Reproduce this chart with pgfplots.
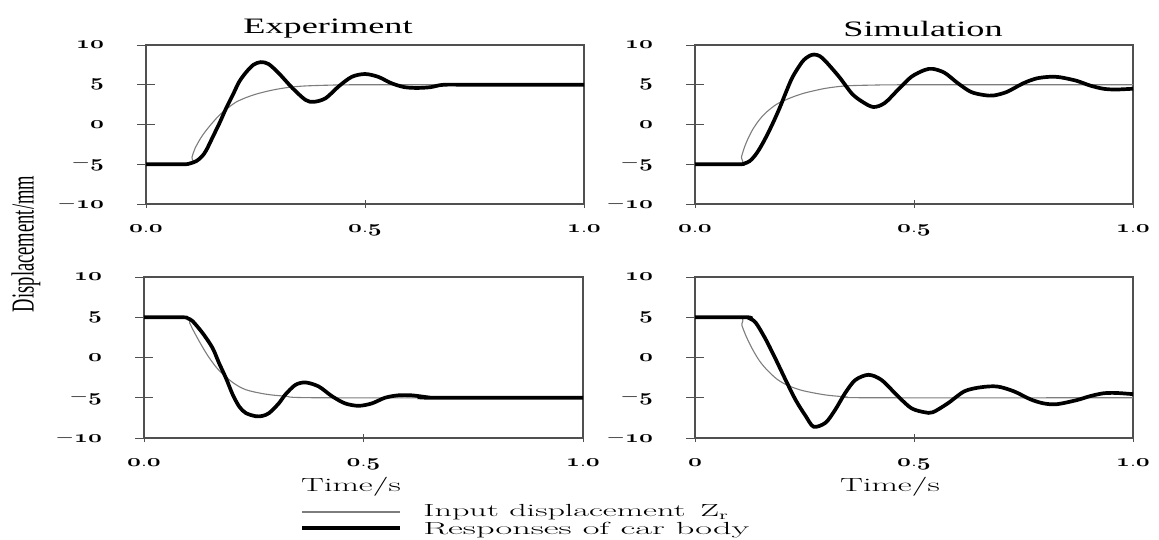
\documentclass[border=0pt]{standalone}
\usepackage{fontspec}
\usepackage{pgfplots}
\pgfplotsset{compat=1.18}
\newfontfamily\tnr{Liberation Serif}
\newcommand\osn[1]{{\usefont{OML}{cmm}{b}{it}#1}}
\definecolor{inputgray}{RGB}{125,125,125}
\definecolor{framegray}{RGB}{80,80,80}

\pgfplotsset{
  panel/.style={
    scale only axis, width=438pt, height=159pt,
    xmin=0, xmax=1, ymin=-10, ymax=10,
    axis line style={framegray, line width=1.1pt},
    ytick={-10,-5,0,5,10},
    yticklabels={$-$\osn{10},$-$\osn{5},\osn{0},\osn{5},\osn{10}},
    tick pos=left,
    major tick length=18pt, tick align=center,
    tick style={framegray, line width=1pt},
    xtick=\empty,
    extra x ticks={0,0.5,1},
    extra x tick labels={\osn{0}.\osn{0},\osn{0}.\osn{5},\osn{1}.\osn{0}},
    extra x tick style={major tick length=8pt, tick align=center},
    yticklabel style={font=\fontsize{17}{17}\selectfont, xscale=1.4, anchor=east, xshift=-20pt},
    xticklabel style={font=\fontsize{17}{17}\selectfont, xscale=1.4, anchor=north, yshift=-13pt},
    clip=false,
  },
  inp/.style={inputgray, line width=1.1pt, smooth},
  resp/.style={black, line width=3.7pt, smooth},
}

\begin{document}
\begin{tikzpicture}
\useasboundingbox (0pt,0pt) rectangle (1159pt,-539pt);

% top left: experiment
\begin{axis}[panel, at={(146pt,-204pt)}, width=438pt, height=159pt]
\addplot[inp] coordinates {
 (0,-5) (0.1,-5) (0.105,-4.1) (0.112,-3.0) (0.125,-1.7) (0.138,-0.7) (0.153,0.3)
 (0.168,1.2) (0.183,1.9) (0.205,2.8) (0.229,3.4) (0.25,3.8) (0.274,4.15) (0.3,4.45)
 (0.33,4.7) (0.364,4.85) (0.42,4.95) (0.5,5) (1,5)};
\addplot[resp] coordinates {
 (0,-5) (0.085,-5) (0.1,-4.9) (0.115,-4.6) (0.128,-4.0) (0.138,-3.2) (0.153,-1.5)
 (0.168,0.2) (0.183,2.05) (0.198,3.7) (0.213,5.4) (0.229,6.6) (0.245,7.5) (0.262,7.85)
 (0.28,7.6) (0.304,6.4) (0.334,4.6) (0.364,3.1) (0.383,2.85) (0.41,3.3) (0.44,4.8)
 (0.47,6.0) (0.5,6.35) (0.53,6.0) (0.56,5.2) (0.59,4.7) (0.62,4.6) (0.65,4.7)
 (0.68,5.0) (0.75,5.0) (1,5)};
\end{axis}

% top right: simulation
\begin{axis}[panel, at={(695pt,-204pt)}, width=438pt, height=159pt]
\addplot[inp] coordinates {
 (0,-5) (0.102,-5) (0.106,-4.1) (0.112,-3.0) (0.12,-1.9) (0.132,-0.6) (0.147,0.6)
 (0.162,1.5) (0.185,2.5) (0.207,3.1) (0.23,3.6) (0.253,4.0) (0.298,4.55) (0.343,4.85)
 (0.4,4.95) (0.5,5) (1,5)};
\addplot[resp] coordinates {
 (0,-5) (0.1,-5) (0.113,-4.9) (0.125,-4.6) (0.137,-3.9) (0.148,-3.0) (0.163,-1.5)
 (0.178,0.2) (0.193,2.05) (0.208,4.1) (0.223,6.0) (0.245,7.9) (0.26,8.6) (0.272,8.8)
 (0.285,8.6) (0.299,7.9) (0.329,6.0) (0.358,3.9) (0.381,2.9) (0.407,2.2) (0.433,2.7)
 (0.464,4.4) (0.494,6.0) (0.524,6.85) (0.543,7.0) (0.57,6.5) (0.6,5.2) (0.63,4.1)
 (0.66,3.7) (0.682,3.65) (0.712,4.1) (0.75,5.2) (0.78,5.8) (0.81,6.0) (0.833,5.95)
 (0.871,5.5) (0.902,4.9) (0.932,4.5) (0.96,4.4) (1,4.5)};
\end{axis}

% bottom left: experiment
\begin{axis}[panel, at={(144pt,-438pt)}, width=439pt, height=161pt]
\addplot[inp] coordinates {
 (0,5) (0.096,5) (0.104,4.3) (0.111,3.5) (0.126,2.0) (0.141,0.6) (0.156,-0.6)
 (0.171,-1.6) (0.202,-3.1) (0.232,-4.0) (0.277,-4.55) (0.322,-4.8) (0.4,-5) (1,-5)};
\addplot[resp] coordinates {
 (0,5) (0.088,5) (0.1,4.85) (0.111,4.5) (0.134,3.0) (0.156,1.2) (0.171,-0.7)
 (0.187,-2.6) (0.202,-4.6) (0.217,-6.1) (0.232,-6.9) (0.255,-7.3) (0.27,-7.25)
 (0.285,-6.9) (0.307,-5.7) (0.322,-4.6) (0.345,-3.4) (0.368,-3.1) (0.398,-3.6)
 (0.428,-4.8) (0.458,-5.7) (0.489,-6.0) (0.519,-5.7) (0.549,-5.0) (0.579,-4.7)
 (0.61,-4.7) (0.64,-4.9) (0.66,-5) (1,-5)};
\end{axis}

% bottom right: simulation
\begin{axis}[panel, at={(695pt,-438pt)}, width=438pt, height=161pt,
  extra x tick labels={\osn{0},\osn{0}.\osn{5},\osn{1}.\osn{0}}]
\addplot[inp] coordinates {
 (0,5) (0.102,5) (0.107,4.0) (0.117,2.6) (0.132,0.95) (0.147,-0.4) (0.162,-1.4)
 (0.185,-2.6) (0.207,-3.35) (0.23,-3.85) (0.253,-4.2) (0.298,-4.65) (0.343,-4.88)
 (0.4,-5) (1,-5)};
\addplot[resp] coordinates {
 (0,5) (0.117,5) (0.125,4.85) (0.139,4.3) (0.162,2.2) (0.185,-0.3) (0.207,-2.8)
 (0.23,-5.3) (0.253,-7.3) (0.271,-8.6) (0.298,-8.1) (0.32,-6.5) (0.343,-4.4)
 (0.366,-2.8) (0.396,-2.15) (0.426,-2.8) (0.464,-4.85) (0.494,-6.3) (0.524,-6.8)
 (0.543,-6.8) (0.577,-5.7) (0.615,-4.2) (0.652,-3.7) (0.69,-3.6) (0.728,-4.2)
 (0.766,-5.2) (0.796,-5.7) (0.826,-5.8) (0.871,-5.3) (0.902,-4.8) (0.932,-4.45)
 (0.96,-4.4) (1,-4.55)};
\end{axis}

% titles and labels
\node[font=\tnr\fontsize{22}{22}\selectfont, xscale=1.65] at (328pt,-29pt) {Experiment};
\node[font=\tnr\fontsize{22}{22}\selectfont, xscale=1.65] at (923pt,-29pt) {Simulation};
\node[font=\tnr\fontsize{32}{32}\selectfont, rotate=90, xscale=0.58] at (26pt,-244pt) {Displacement/mm};
\node[font=\fontsize{19}{19}\selectfont, xscale=1.8] at (351pt,-487pt) {Time/s};
\node[font=\fontsize{19}{19}\selectfont, xscale=1.8] at (890pt,-487pt) {Time/s};

% legend
\draw[inputgray, line width=1.2pt] (302pt,-512pt) -- (400pt,-512pt);
\draw[black, line width=4.5pt] (302pt,-528pt) -- (400pt,-528pt);
\node[anchor=west, font=\fontsize{17.5}{17.5}\selectfont, xscale=1.95, inner sep=0pt] at (423pt,-512pt) {Input displacement};
\node[anchor=west, font=\fontsize{17.5}{17.5}\selectfont, xscale=1.9, inner sep=0pt] at (700pt,-512pt) {Z\textsubscript{r}};
\node[anchor=west, font=\fontsize{17.5}{17.5}\selectfont, xscale=2.08, inner sep=0pt] at (423pt,-530pt) {Responses of car body};
\end{tikzpicture}
\end{document}
